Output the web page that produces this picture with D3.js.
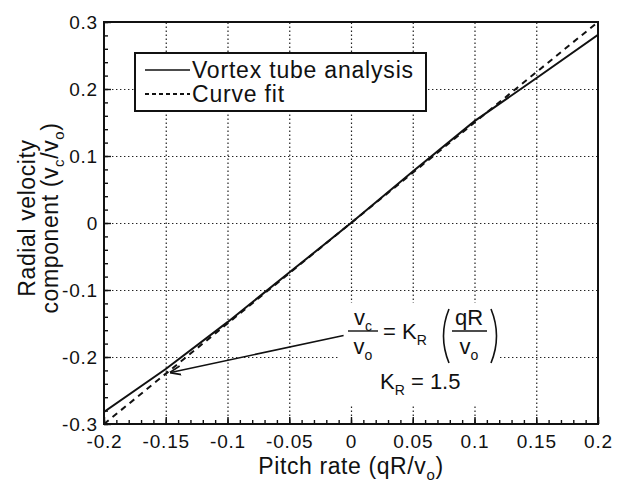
<!DOCTYPE html>
<html>
<head>
<meta charset="utf-8">
<script src="https://cdn.jsdelivr.net/npm/d3@7"></script>
<style>
  body { margin: 0; background: #fff; }
  text { font-family: "Liberation Sans", Arial, sans-serif; fill: #111; }
</style>
</head>
<body>
<svg id="chart" width="627" height="487"></svg>
<script>
'use strict';

// Data
const pitchRate  = [-0.2, -0.15, -0.1, -0.05, 0, 0.05, 0.1, 0.15, 0.2];
const vortexTube = [-0.282, -0.218, -0.148, -0.074, 0, 0.077, 0.152, 0.216, 0.281];
const fitRate    = [-0.2, 0.2];
const fitValue   = [-0.3, 0.3];

const xTicks = [-0.2, -0.15, -0.1, -0.05, 0, 0.05, 0.1, 0.15, 0.2];
const yTicks = [-0.3, -0.2, -0.1, 0, 0.1, 0.2, 0.3];
const xMinor = d3.range(-20, 21).map(d => d / 100);
const yMinor = d3.range(-15, 16).map(d => d / 50);

const legendItems = ['Vortex tube analysis', 'Curve fit'];

// arrow from the equation to the curve, data coords
const arrowTail = [-0.006, -0.168];
const arrowHead = [-0.146, -0.223];


const svg = d3.select('#chart');

const margin = {top: 22, right: 29, bottom: 63, left: 104},
      w = 627 - margin.left - margin.right,
      h = 487 - margin.top - margin.bottom;

const x = d3.scaleLinear().domain([-0.2, 0.2]).range([0, w]);
const y = d3.scaleLinear().domain([-0.3, 0.3]).range([h, 0]);

const g = svg.append('g').attr('transform', `translate(${margin.left},${margin.top})`);

g.append('clipPath').attr('id', 'clip')
    .append('rect').attr('width', w).attr('height', h);

const fmt = d => d === 0 ? '0' : String(d);

// grid
const grid = g.append('g').attr('class', 'grid');
grid.append('g')
    .attr('transform', `translate(0,${h})`)
    .call(d3.axisBottom(x).tickValues(xTicks.slice(1, -1)).tickSize(-h).tickFormat(''));
grid.append('g')
    .call(d3.axisLeft(y).tickValues(yTicks.slice(1, -1)).tickSize(-w).tickFormat(''));
grid.selectAll('.domain').remove();
grid.selectAll('line')
    .attr('stroke', '#222')
    .attr('stroke-width', 1.2)
    .attr('stroke-dasharray', '1.4,2.6');

// white box that hides grid under the equation
g.append('rect')
    .attr('x', 236).attr('y', 281).attr('width', 160).attr('height', 103)
    .attr('fill', '#fff');

// minor ticks (inward)
g.append('g')
    .attr('transform', `translate(0,${h})`)
    .call(d3.axisBottom(x).tickValues(xMinor).tickSize(-4).tickFormat(''))
    .call(a => a.select('.domain').remove());
g.append('g')
    .call(d3.axisLeft(y).tickValues(yMinor).tickSize(-4).tickFormat(''))
    .call(a => a.select('.domain').remove());

// major ticks + labels
const xAxis = g.append('g')
    .attr('transform', `translate(0,${h})`)
    .call(d3.axisBottom(x).tickValues(xTicks).tickSize(-7).tickPadding(11).tickFormat(fmt));
const yAxis = g.append('g')
    .call(d3.axisLeft(y).tickValues(yTicks).tickSize(-7).tickPadding(6).tickFormat(fmt));

[xAxis, yAxis].forEach(a => {
    a.select('.domain').remove();
    a.selectAll('text')
        .style('font-size', '19px')
        .style('letter-spacing', '0.8px')
        .attr('fill', '#111');
});
xAxis.selectAll('text').attr('dy', '0.71em');
yAxis.selectAll('text').attr('dy', '0.36em');
g.selectAll('.tick line').filter(function() { return !this.closest('.grid'); })
    .attr('stroke', '#111').attr('stroke-width', 1.4);

// lines
const solid = d3.line().x((d, i) => x(pitchRate[i])).y(d => y(d));
g.append('path')
    .datum(vortexTube)
    .attr('clip-path', 'url(#clip)')
    .attr('d', solid)
    .attr('fill', 'none')
    .attr('stroke', '#111')
    .attr('stroke-width', 2);

const dashed = d3.line().x((d, i) => x(fitRate[i])).y(d => y(d));
g.append('path')
    .datum(fitValue)
    .attr('clip-path', 'url(#clip)')
    .attr('d', dashed)
    .attr('fill', 'none')
    .attr('stroke', '#111')
    .attr('stroke-width', 2)
    .attr('stroke-dasharray', '6,5');

// frame
g.append('rect')
    .attr('width', w).attr('height', h)
    .attr('fill', 'none')
    .attr('stroke', '#111')
    .attr('stroke-width', 2);

// legend
const leg = g.append('g').attr('transform', 'translate(31,31)');
leg.append('rect')
    .attr('width', 291).attr('height', 58)
    .attr('fill', '#fff')
    .attr('stroke', '#111')
    .attr('stroke-width', 2);
legendItems.forEach((name, i) => {
    const yy = 17 + i * 24;
    leg.append('line')
        .attr('x1', 10).attr('x2', 55)
        .attr('y1', yy).attr('y2', yy)
        .attr('stroke', '#111')
        .attr('stroke-width', i === 0 ? 1.6 : 1.8)
        .attr('stroke-dasharray', i === 0 ? null : '4,3');
    leg.append('text')
        .attr('x', 57).attr('y', yy + 8)
        .style('font-size', '23px')
        .style('letter-spacing', '0.8px')
        .text(name);
});

// arrow
svg.append('defs').append('marker')
    .attr('id', 'head')
    .attr('viewBox', '0 -5 10 10')
    .attr('refX', 9).attr('refY', 0)
    .attr('markerWidth', 7).attr('markerHeight', 7)
    .attr('orient', 'auto')
    .append('path')
    .attr('d', 'M0,-4L10,0L0,4')
    .attr('fill', 'none')
    .attr('stroke', '#111')
    .attr('stroke-width', 1.5);

g.append('line')
    .attr('x1', x(arrowTail[0])).attr('y1', y(arrowTail[1]))
    .attr('x2', x(arrowHead[0])).attr('y2', y(arrowHead[1]))
    .attr('stroke', '#111')
    .attr('stroke-width', 1.6)
    .attr('marker-end', 'url(#head)');

// equation
const eq = svg.append('g').style('font-size', '22px');

function sub(t, main, s, subSize) {
    t.append('tspan').text(main);
    t.append('tspan').attr('dy', 6).style('font-size', (subSize || 14) + 'px').text(s);
}

sub(eq.append('text').attr('x', 363).attr('y', 325).attr('text-anchor', 'middle'), 'v', 'c');
eq.append('line').attr('x1', 348).attr('x2', 378).attr('y1', 331).attr('y2', 331)
    .attr('stroke', '#111').attr('stroke-width', 1.4);
sub(eq.append('text').attr('x', 363).attr('y', 354).attr('text-anchor', 'middle'), 'v', 'o');

const kt = eq.append('text').attr('x', 383).attr('y', 339);
kt.append('tspan').text('= K');
kt.append('tspan').attr('dy', 6).style('font-size', '14px').text('R');

eq.append('path')
    .attr('d', 'M449,309 Q438,336 449,363')
    .attr('fill', 'none').attr('stroke', '#111').attr('stroke-width', 1.6);
eq.append('path')
    .attr('d', 'M491,309 Q502,336 491,363')
    .attr('fill', 'none').attr('stroke', '#111').attr('stroke-width', 1.6);

eq.append('text').attr('x', 469).attr('y', 325).attr('text-anchor', 'middle').text('qR');
eq.append('line').attr('x1', 452).attr('x2', 487).attr('y1', 331).attr('y2', 331)
    .attr('stroke', '#111').attr('stroke-width', 1.4);
sub(eq.append('text').attr('x', 469).attr('y', 354).attr('text-anchor', 'middle'), 'v', 'o');

const k2 = eq.append('text').attr('x', 380).attr('y', 389);
k2.append('tspan').text('K');
k2.append('tspan').attr('dy', 6).style('font-size', '14px').text('R');
k2.append('tspan').attr('dy', -6).text(' = 1.5');

// axis titles
const xt = svg.append('text')
    .attr('x', margin.left + w / 2).attr('y', 474)
    .attr('text-anchor', 'middle')
    .style('font-size', '23px')
    .style('letter-spacing', '0.6px');
xt.append('tspan').text('Pitch rate (qR/v');
xt.append('tspan').attr('dy', 6).style('font-size', '15px').text('o');
xt.append('tspan').attr('dy', -6).text(')');

const yt = svg.append('text')
    .attr('transform', 'translate(0,218) rotate(-90)')
    .attr('text-anchor', 'middle')
    .style('font-size', '23px')
    .style('letter-spacing', '0.6px');
yt.append('tspan').attr('x', 0).attr('y', 35).text('Radial velocity');
const l2 = yt.append('tspan').attr('x', 0).attr('y', 58);
l2.append('tspan').text('component (v');
l2.append('tspan').attr('dy', 6).style('font-size', '15px').text('c');
l2.append('tspan').attr('dy', -6).text('/v');
l2.append('tspan').attr('dy', 6).style('font-size', '15px').text('o');
l2.append('tspan').attr('dy', -6).text(')');
</script>
</body>
</html>
